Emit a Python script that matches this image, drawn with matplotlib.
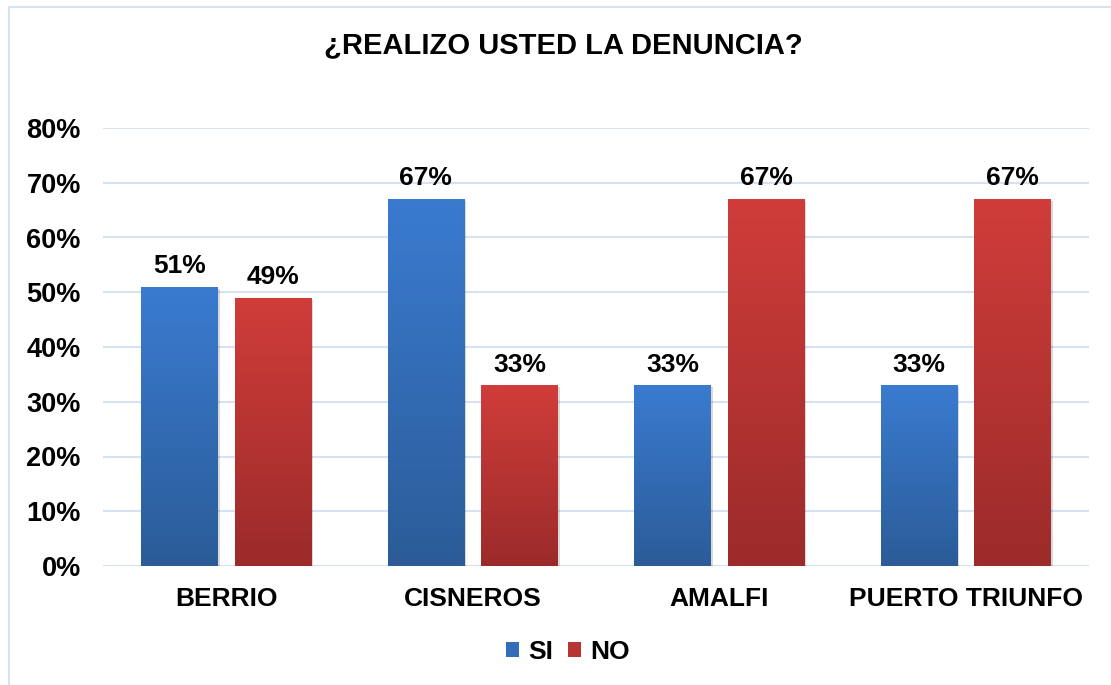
import matplotlib
matplotlib.use("Agg")
import matplotlib.pyplot as plt
import numpy as np
from matplotlib.colors import LinearSegmentedColormap
from matplotlib.patches import Rectangle
import matplotlib.patheffects as pe

# Data
municipios = ["BERRIO", "CISNEROS", "AMALFI", "PUERTO TRIUNFO"]
si_vals = [51, 67, 33, 33]
no_vals = [49, 33, 67, 67]
series = ["SI", "NO"]
y_ticks = [0, 10, 20, 30, 40, 50, 60, 70, 80]

plt.rcParams['font.family'] = ['Liberation Sans', 'DejaVu Sans']
plt.rcParams['font.weight'] = 'bold'

blue_cmap = LinearSegmentedColormap.from_list("blue", ["#2b5c98", "#3a7bd0"])
red_cmap = LinearSegmentedColormap.from_list("red", ["#9b2b2a", "#d03d3a"])

fig = plt.figure(figsize=(11.11, 6.85), dpi=100)
ax = fig.add_axes([103 / 1111, 1 - 566 / 685, (1089 - 103) / 1111, (566 - 128) / 685])

x = np.arange(len(municipios))
width = 0.31
offset = 0.19

grad = np.linspace(0, 1, 256).reshape(-1, 1)


def gradient_bars(xs, vals, cmap):
    bars = ax.bar(xs, vals, width, color="none", zorder=3)
    for rect, v in zip(bars, vals):
        x0 = rect.get_x()
        # soft shadow
        sh = Rectangle((x0, 0), width, v, facecolor="white", edgecolor="none", zorder=2)
        sh.set_path_effects([pe.SimplePatchShadow(offset=(1.5, -1.5), shadow_rgbFace="#000000", alpha=0.15)])
        ax.add_patch(sh)
        im = ax.imshow(grad, cmap=cmap, aspect="auto", origin="lower",
                       extent=(x0, x0 + width, 0, v), zorder=3)
        im.set_clip_path(rect)
    return bars


gradient_bars(x - offset, si_vals, blue_cmap)
gradient_bars(x + offset, no_vals, red_cmap)

for xi, v in zip(x - offset, si_vals):
    ax.text(xi, v + 1.6, f"{v}%", ha="center", va="bottom", fontsize=19, fontweight="bold")
for xi, v in zip(x + offset, no_vals):
    ax.text(xi, v + 1.6, f"{v}%", ha="center", va="bottom", fontsize=19, fontweight="bold")

ax.set_xlim(-0.5, len(municipios) - 0.5)
ax.set_ylim(0, 80)
ax.set_yticks(y_ticks)
ax.set_yticklabels([f"{t}%" for t in y_ticks], fontsize=19.5, fontweight="bold")
ax.set_xticks(x)
ax.set_xticklabels(municipios, fontsize=19, fontweight="bold")
ax.tick_params(axis="both", length=0)
ax.tick_params(axis="y", pad=16)
ax.tick_params(axis="x", pad=15)
ax.grid(axis="y", color="#d6e2f2", linewidth=1.5, zorder=0)
ax.set_axisbelow(True)
for s in ax.spines.values():
    s.set_visible(False)

fig.text(563 / 1111, 1 - 45 / 685, "¿REALIZO USTED LA DENUNCIA?", ha="center", va="center",
         fontsize=21, fontweight="bold")

# legend
handles = [Rectangle((0, 0), 1, 1, facecolor="#336cb8"), Rectangle((0, 0), 1, 1, facecolor="#b83432")]
fig.legend(handles, series, loc="center", bbox_to_anchor=(568 / 1111, 1 - 652 / 685), ncol=2,
           frameon=False, handlelength=0.5, handleheight=0.5, handletextpad=0.35,
           columnspacing=0.55, prop={'weight': 'bold', 'size': 19})

# chart frame
frame = Rectangle((9 / 1111, -0.1), 1.2, 1 - 7 / 685 + 0.1, transform=fig.transFigure,
                  facecolor="none", edgecolor="#d9e2f0", linewidth=1.5)
fig.patches.append(frame)

fig.savefig("out.png", dpi=100)
